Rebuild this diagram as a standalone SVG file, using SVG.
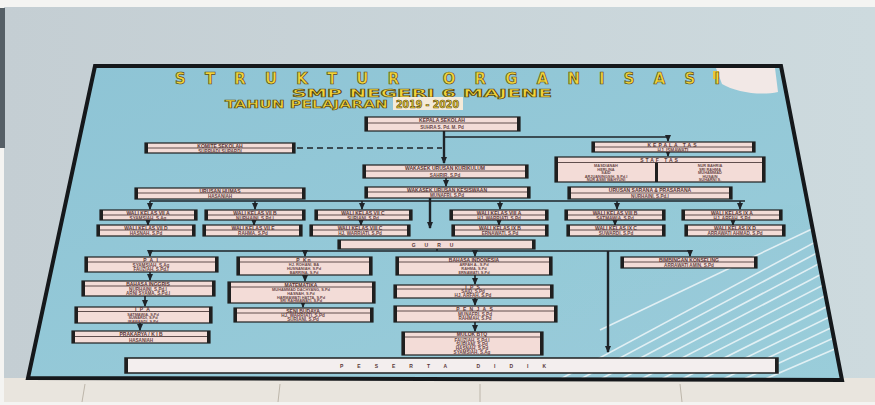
<svg xmlns="http://www.w3.org/2000/svg" width="875" height="405" viewBox="0 0 875 405">
<defs>
<linearGradient id="wall" x1="0" y1="0" x2="1" y2="0"><stop offset="0" stop-color="#c4ced3"/><stop offset="1" stop-color="#cddade"/></linearGradient>
<linearGradient id="board" x1="0" y1="0" x2="1" y2="1"><stop offset="0" stop-color="#8ec4d5"/><stop offset="1" stop-color="#9acdda"/></linearGradient>
<clipPath id="bclip"><polygon points="95,66 781,66 842,380 28,378"/></clipPath>
<marker id="ah" markerWidth="7" markerHeight="6" refX="6" refY="3" orient="auto" markerUnits="userSpaceOnUse"><path d="M0,0 L7,3 L0,6 Z" fill="#1e2328"/></marker>
</defs>
<style>
.bx{fill:#f3dcd7;stroke:#1f1f1f;stroke-width:1.2}
.bar{fill:#1f1f1f}
.dv{stroke:#3a2a2a;stroke-width:0.8}
.t{font-family:"Liberation Sans",Arial,sans-serif;font-weight:bold;font-size:5px;fill:#5a3838;text-anchor:middle}
.n{font-family:"Liberation Sans",Arial,sans-serif;font-weight:bold;font-size:4.6px;fill:#6a4848;text-anchor:middle}
.s{font-family:"Liberation Sans",Arial,sans-serif;font-weight:bold;font-size:3.9px;fill:#6a4848;text-anchor:middle}
.c{stroke:#1e2328;stroke-width:1.6;fill:none}
.big{stroke:#1e2328;stroke-width:2.4;fill:none}
.ttl{font-family:"DejaVu Sans",Verdana,sans-serif;font-weight:bold;fill:#f2d43a;stroke:#5a4a10;stroke-width:0.7}
</style>
<rect width="875" height="405" fill="#f4f4f2"/>
<rect x="4" y="7" width="871" height="378" fill="url(#wall)"/>
<rect x="0" y="8" width="5" height="140" fill="#555f66"/>
<rect x="4" y="378" width="871" height="24" fill="#e9e5de"/>
<g stroke="#bdb6aa" stroke-width="1">
<line x1="85" y1="384" x2="82" y2="402"/><line x1="280" y1="384" x2="278" y2="402"/><line x1="480" y1="384" x2="480" y2="402"/><line x1="680" y1="384" x2="682" y2="402"/>
</g>
<polygon points="95,66 781,66 842,380 28,378" fill="url(#board)"/>
<g clip-path="url(#bclip)" stroke="#eef6f8" stroke-width="1.6" opacity="0.85">
<line x1="560" y1="390" x2="860" y2="230"/><line x1="580" y1="390" x2="860" y2="242"/><line x1="600" y1="390" x2="860" y2="254"/><line x1="620" y1="390" x2="860" y2="266"/><line x1="640" y1="390" x2="860" y2="278"/><line x1="660" y1="390" x2="860" y2="290"/><line x1="680" y1="390" x2="860" y2="302"/><line x1="700" y1="390" x2="860" y2="314"/><line x1="720" y1="390" x2="860" y2="326"/><line x1="740" y1="390" x2="860" y2="338"/><line x1="540" y1="390" x2="860" y2="218"/><line x1="600" y1="330" x2="860" y2="206"/>
</g>
<path d="M716,68 L775,68 L778,92 C760,96 735,92 722,84 Z" fill="#f2e8e6" clip-path="url(#bclip)"/>
<rect x="713" y="71" width="6" height="8" fill="#e7c83a"/>
<polygon points="95,66 781,66 842,380 28,378" fill="none" stroke="#15181b" stroke-width="4"/>

<g id="title">
<text class="ttl" x="175" y="84" font-size="15" textLength="545" lengthAdjust="spacing">STRUKTUR ORGANISASI</text>
<text class="ttl" x="292" y="97" font-size="11" textLength="260" lengthAdjust="spacingAndGlyphs">SMP NEGERI 6 MAJENE</text>
<text class="ttl" x="225" y="108" font-size="11" textLength="163" lengthAdjust="spacingAndGlyphs">TAHUN PELAJARAN</text>
<rect x="393" y="97" width="70" height="13" fill="#f4ead8"/>
<text class="ttl" x="396" y="108" font-size="10.5" textLength="63" lengthAdjust="spacingAndGlyphs" stroke="none" fill="#f0cf3a">2019 - 2020</text>
</g>

<g id="connectors">
<path class="big" d="M444,131 V163" marker-end="url(#ah)"/>
<path class="c" d="M297,148 H442" stroke-dasharray="6 4"/>
<path class="c" d="M445,137 H668 V141" marker-end="url(#ah)"/>
<path class="c" d="M668,152 V156" marker-end="url(#ah)"/>
<path class="c" d="M446,178 V186" marker-end="url(#ah)"/>
<path class="c" d="M150,201 H745"/>
<path class="c" d="M150,201 V209" marker-end="url(#ah)"/>
<path class="c" d="M255,201 V209" marker-end="url(#ah)"/>
<path class="c" d="M362,201 V209" marker-end="url(#ah)"/>
<path class="c" d="M500,201 V209" marker-end="url(#ah)"/>
<path class="c" d="M617,201 V209" marker-end="url(#ah)"/>
<path class="c" d="M740,201 V209" marker-end="url(#ah)"/>
<path class="big" d="M430,198 V228" marker-end="url(#ah)"/>
<path class="c" d="M148,220 V225" marker-end="url(#ah)"/>
<path class="c" d="M254,220 V225" marker-end="url(#ah)"/>
<path class="c" d="M361,220 V225" marker-end="url(#ah)"/>
<path class="c" d="M499,220 V225" marker-end="url(#ah)"/>
<path class="c" d="M615,220 V225" marker-end="url(#ah)"/>
<path class="c" d="M733,220 V225" marker-end="url(#ah)"/>
<path class="c" d="M437,248 V251 M150,251 H690"/>
<path class="c" d="M150,251 V256" marker-end="url(#ah)"/>
<path class="c" d="M305,251 V256" marker-end="url(#ah)"/>
<path class="c" d="M475,251 V256" marker-end="url(#ah)"/>
<path class="c" d="M690,251 V256" marker-end="url(#ah)"/>
<path class="big" d="M608,251 V352" marker-end="url(#ah)"/>
<path class="c" d="M150,272 V280" marker-end="url(#ah)"/>
<path class="c" d="M145,296 V306" marker-end="url(#ah)"/>
<path class="c" d="M140,323 V330" marker-end="url(#ah)"/>
<path class="c" d="M305,275 V281" marker-end="url(#ah)"/>
<path class="c" d="M303,303 V307" marker-end="url(#ah)"/>
<path class="c" d="M475,275 V284" marker-end="url(#ah)"/>
<path class="c" d="M475,298 V305" marker-end="url(#ah)"/>
<path class="c" d="M475,322 V331" marker-end="url(#ah)"/>
</g>

<g id="kepala-sekolah"><rect class="bx" x="365" y="117" width="155" height="14"/><rect class="bar" x="365" y="117" width="3" height="14"/><rect class="bar" x="517" y="117" width="3" height="14"/><line class="dv" x1="368" y1="123" x2="517" y2="123"/><text class="t" x="442" y="122">KEPALA SEKOLAH</text><text class="n" x="442" y="129">SUHRA S. Pd. M. Pd</text></g>
<g id="komite"><rect class="bx" x="145" y="143" width="150" height="10"/><rect class="bar" x="145" y="143" width="3" height="10"/><rect class="bar" x="292" y="143" width="3" height="10"/><line class="dv" x1="148" y1="148" x2="292" y2="148"/><text class="t" x="220" y="147.5">KOMITE SEKOLAH</text><text class="n" x="220" y="152.5">SUPRIADI SUPARDI</text></g>
<g id="kepala-tas"><rect class="bx" x="592" y="142" width="163" height="10"/><rect class="bar" x="592" y="142" width="3" height="10"/><rect class="bar" x="752" y="142" width="3" height="10"/><line class="dv" x1="595" y1="147" x2="752" y2="147"/><text class="t" x="673" y="146.5" letter-spacing="2">KEPALA TAS</text><text class="n" x="673" y="151.5">HJ. ISMAWATI</text></g>
<g id="staf-tas"><rect class="bx" x="555" y="157" width="210" height="25"/><rect class="bar" x="555" y="157" width="3" height="25"/><rect class="bar" x="762" y="157" width="3" height="25"/><rect class="bar" x="655" y="162.5" width="3" height="19.5"/><line class="dv" x1="558" y1="162.5" x2="762" y2="162.5"/><text class="t" x="660" y="161.5" letter-spacing="2">STAF TAS</text>
<text class="s" x="606" y="167">MASDIANAH</text><text class="s" x="606" y="170.7">HERLINA</text><text class="s" x="606" y="174.4">SAID</text><text class="s" x="606" y="178">ARJUANINGSIH, S.Pd.I</text><text class="s" x="606" y="181.3">NUR ASMI WAHYUNI</text>
<text class="s" x="710" y="167">NUR BAHRIA</text><text class="s" x="710" y="170.7">SRI RAHMA</text><text class="s" x="710" y="174.4">MUHAMMAD</text><text class="s" x="710" y="178">HUSAIN</text><text class="s" x="710" y="181.3">SUHARNI S.</text></g>
<g id="wakasek-kurikulum"><rect class="bx" x="363" y="165" width="165" height="13"/><rect class="bar" x="363" y="165" width="3" height="13"/><rect class="bar" x="525" y="165" width="3" height="13"/><line class="dv" x1="366" y1="171" x2="525" y2="171"/><text class="t" x="445" y="170">WAKASEK URUSAN KURIKULUM</text><text class="n" x="445" y="176.5">SAHRIR, S.Pd</text></g>
<g id="wakasek-kesiswaan"><rect class="bx" x="365" y="187" width="165" height="11"/><rect class="bar" x="365" y="187" width="3" height="11"/><rect class="bar" x="527" y="187" width="3" height="11"/><line class="dv" x1="368" y1="192" x2="527" y2="192"/><text class="t" x="447" y="191.5">WAKASEK URUSAN KESISWAAN</text><text class="n" x="447" y="197">MUNAFRI, S.Pd</text></g>
<g id="humas"><rect class="bx" x="135" y="188" width="170" height="11"/><rect class="bar" x="135" y="188" width="3" height="11"/><rect class="bar" x="302" y="188" width="3" height="11"/><line class="dv" x1="138" y1="193" x2="302" y2="193"/><text class="t" x="220" y="192.5">URUSAN HUMAS</text><text class="n" x="220" y="198">HASANIAH</text></g>
<g id="sarpras"><rect class="bx" x="568" y="187" width="164" height="12"/><rect class="bar" x="568" y="187" width="3" height="12"/><rect class="bar" x="729" y="187" width="3" height="12"/><line class="dv" x1="571" y1="193" x2="729" y2="193"/><text class="t" x="650" y="192">URUSAN SARANA &amp; PRASARANA</text><text class="n" x="650" y="198">NURHAINI, S.Pd.I</text></g>

<g id="wk-7a"><rect class="bx" x="100" y="210" width="97" height="10"/><rect class="bar" x="100" y="210" width="3" height="10"/><rect class="bar" x="194" y="210" width="3" height="10"/><line class="dv" x1="103" y1="215" x2="194" y2="215"/><text class="t" x="148" y="214.5">WALI KELAS VII A</text><text class="n" x="148" y="219.5">SYAMSIAH, S.Ag</text></g>
<g id="wk-7b"><rect class="bx" x="205" y="210" width="100" height="10"/><rect class="bar" x="205" y="210" width="3" height="10"/><rect class="bar" x="302" y="210" width="3" height="10"/><line class="dv" x1="208" y1="215" x2="302" y2="215"/><text class="t" x="255" y="214.5">WALI KELAS VII B</text><text class="n" x="255" y="219.5">NURHAINI, S.Pd.I</text></g>
<g id="wk-7c"><rect class="bx" x="315" y="210" width="97" height="10"/><rect class="bar" x="315" y="210" width="3" height="10"/><rect class="bar" x="409" y="210" width="3" height="10"/><line class="dv" x1="318" y1="215" x2="409" y2="215"/><text class="t" x="363" y="214.5">WALI KELAS VII C</text><text class="n" x="363" y="219.5">SURIANI, S.Pd</text></g>
<g id="wk-8a"><rect class="bx" x="450" y="210" width="98" height="10"/><rect class="bar" x="450" y="210" width="3" height="10"/><rect class="bar" x="545" y="210" width="3" height="10"/><line class="dv" x1="453" y1="215" x2="545" y2="215"/><text class="t" x="499" y="214.5">WALI KELAS VIII A</text><text class="n" x="499" y="219.5">HJ. WARRIATI, S.Pd</text></g>
<g id="wk-8b"><rect class="bx" x="565" y="210" width="100" height="10"/><rect class="bar" x="565" y="210" width="3" height="10"/><rect class="bar" x="662" y="210" width="3" height="10"/><line class="dv" x1="568" y1="215" x2="662" y2="215"/><text class="t" x="615" y="214.5">WALI KELAS VIII B</text><text class="n" x="615" y="219.5">SATMAWIA, S.Pd</text></g>
<g id="wk-9a"><rect class="bx" x="682" y="210" width="100" height="10"/><rect class="bar" x="682" y="210" width="3" height="10"/><rect class="bar" x="779" y="210" width="3" height="10"/><line class="dv" x1="685" y1="215" x2="779" y2="215"/><text class="t" x="732" y="214.5">WALI KELAS IX A</text><text class="n" x="732" y="219.5">HJ. ARFAH, S.Pd</text></g>
<g id="wk-7d"><rect class="bx" x="97" y="225" width="98" height="11"/><rect class="bar" x="97" y="225" width="3" height="11"/><rect class="bar" x="192" y="225" width="3" height="11"/><line class="dv" x1="100" y1="230" x2="192" y2="230"/><text class="t" x="146" y="229.5">WALI KELAS VII D</text><text class="n" x="146" y="235">HASNAH, S.Pd</text></g>
<g id="wk-7e"><rect class="bx" x="203" y="225" width="99" height="11"/><rect class="bar" x="203" y="225" width="3" height="11"/><rect class="bar" x="299" y="225" width="3" height="11"/><line class="dv" x1="206" y1="230" x2="299" y2="230"/><text class="t" x="253" y="229.5">WALI KELAS VII E</text><text class="n" x="253" y="235">RAHMA, S.Pd</text></g>
<g id="wk-8c"><rect class="bx" x="310" y="225" width="100" height="11"/><rect class="bar" x="310" y="225" width="3" height="11"/><rect class="bar" x="407" y="225" width="3" height="11"/><line class="dv" x1="313" y1="230" x2="407" y2="230"/><text class="t" x="360" y="229.5">WALI KELAS VIII C</text><text class="n" x="360" y="235">HJ. WARRIATI, S.Pd</text></g>
<g id="wk-9b"><rect class="bx" x="452" y="225" width="96" height="11"/><rect class="bar" x="452" y="225" width="3" height="11"/><rect class="bar" x="545" y="225" width="3" height="11"/><line class="dv" x1="455" y1="230" x2="545" y2="230"/><text class="t" x="500" y="229.5">WALI KELAS IX B</text><text class="n" x="500" y="235">ERNAWATI, S.Pd</text></g>
<g id="wk-9c"><rect class="bx" x="567" y="225" width="98" height="11"/><rect class="bar" x="567" y="225" width="3" height="11"/><rect class="bar" x="662" y="225" width="3" height="11"/><line class="dv" x1="570" y1="230" x2="662" y2="230"/><text class="t" x="616" y="229.5">WALI KELAS IX C</text><text class="n" x="616" y="235">SUWARDI, S.Pd</text></g>
<g id="wk-9d"><rect class="bx" x="685" y="225" width="100" height="11"/><rect class="bar" x="685" y="225" width="3" height="11"/><rect class="bar" x="782" y="225" width="3" height="11"/><line class="dv" x1="688" y1="230" x2="782" y2="230"/><text class="t" x="735" y="229.5">WALI KELAS IX D</text><text class="n" x="735" y="235">ARRAWATI AHMAD, S.Pd</text></g>

<g id="guru"><rect class="bx" x="338" y="240" width="197" height="9"/><rect class="bar" x="338" y="240" width="3" height="9"/><rect class="bar" x="532" y="240" width="3" height="9"/><text class="t" x="437" y="246.5" letter-spacing="9">GURU</text></g>

<g id="pai"><rect class="bx" x="85" y="257" width="133" height="15"/><rect class="bar" x="85" y="257" width="3" height="15"/><rect class="bar" x="215" y="257" width="3" height="15"/><line class="dv" x1="88" y1="262" x2="215" y2="262"/><text class="t" x="151" y="261.5" letter-spacing="1">P A I</text><text class="n" x="151" y="266.5">SYAMSIAH, S.Ag</text><text class="n" x="151" y="271">FAUZIAH, S.Pd.I</text></g>
<g id="pkn"><rect class="bx" x="237" y="257" width="135" height="18"/><rect class="bar" x="237" y="257" width="3" height="18"/><rect class="bar" x="369" y="257" width="3" height="18"/><line class="dv" x1="240" y1="262" x2="369" y2="262"/><text class="t" x="304" y="261.5" letter-spacing="1">P Kn</text><text class="s" x="304" y="266.3">HJ. ROHANI, BA</text><text class="s" x="304" y="270.3">HUSNANIAH, S.Pd</text><text class="s" x="304" y="274.3">BARRINA, S.Pd</text></g>
<g id="bindo"><rect class="bx" x="396" y="257" width="156" height="18"/><rect class="bar" x="396" y="257" width="3" height="18"/><rect class="bar" x="549" y="257" width="3" height="18"/><line class="dv" x1="399" y1="262" x2="549" y2="262"/><text class="t" x="474" y="261.5">BAHASA INDONESIA</text><text class="s" x="474" y="266.3">ARFAH A., S.Pd</text><text class="s" x="474" y="270.3">RAHMA, S.Pd</text><text class="s" x="474" y="274.3">ERNAWATI, S.Pd</text></g>
<g id="bk"><rect class="bx" x="621" y="257" width="136" height="11"/><rect class="bar" x="621" y="257" width="3" height="11"/><rect class="bar" x="754" y="257" width="3" height="11"/><line class="dv" x1="624" y1="262" x2="754" y2="262"/><text class="t" x="689" y="261.5">BIMBINGAN KONSELING</text><text class="n" x="689" y="267">ARRAWATI AMIN, S.Pd</text></g>
<g id="bing"><rect class="bx" x="82" y="281" width="133" height="15"/><rect class="bar" x="82" y="281" width="3" height="15"/><rect class="bar" x="212" y="281" width="3" height="15"/><line class="dv" x1="85" y1="286" x2="212" y2="286"/><text class="t" x="148" y="285.5">BAHASA INGGRIS</text><text class="n" x="148" y="290.5">NURHAINI, S.Pd.I</text><text class="n" x="148" y="295">ARNI SYAMA, S.Pd.I</text></g>
<g id="mat"><rect class="bx" x="228" y="282" width="147" height="21"/><rect class="bar" x="228" y="282" width="3" height="21"/><rect class="bar" x="372" y="282" width="3" height="21"/><line class="dv" x1="231" y1="287" x2="372" y2="287"/><text class="t" x="301" y="286.5">MATEMATIKA</text><text class="s" x="301" y="291">MUHAMMAD DACHYANG, S.Pd</text><text class="s" x="301" y="295">HASNAH, S.Pd</text><text class="s" x="301" y="298.8">HARMAWATI HATTA, S.Pd</text><text class="s" x="301" y="302.4">SRI RAHMAWATI, S.Pd</text></g>
<g id="ips"><rect class="bx" x="394" y="285" width="159" height="13"/><rect class="bar" x="394" y="285" width="3" height="13"/><rect class="bar" x="550" y="285" width="3" height="13"/><line class="dv" x1="397" y1="289" x2="550" y2="289"/><text class="t" x="473" y="288.5" letter-spacing="1">I P S</text><text class="n" x="473" y="293">SAID, S.Pd</text><text class="n" x="473" y="297">HJ. ARFAH, S.Pd</text></g>
<g id="ipa"><rect class="bx" x="75" y="307" width="137" height="16"/><rect class="bar" x="75" y="307" width="3" height="16"/><rect class="bar" x="209" y="307" width="3" height="16"/><line class="dv" x1="78" y1="311.5" x2="209" y2="311.5"/><text class="t" x="143" y="311" letter-spacing="1">I P A</text><text class="s" x="143" y="315.5">SATMAWIA, S.Pd</text><text class="s" x="143" y="319">SUWARDI, S.Pd</text><text class="s" x="143" y="322.5">IRAWANDI, S.Pd</text></g>
<g id="seni"><rect class="bx" x="234" y="308" width="139" height="14"/><rect class="bar" x="234" y="308" width="3" height="14"/><rect class="bar" x="370" y="308" width="3" height="14"/><line class="dv" x1="237" y1="313" x2="370" y2="313"/><text class="t" x="303" y="312.5">SENI BUDAYA</text><text class="n" x="303" y="317">HJ. WARRIATI, S.Pd</text><text class="n" x="303" y="321">SURIANI, S.Pd</text></g>
<g id="penjas"><rect class="bx" x="394" y="306" width="163" height="16"/><rect class="bar" x="394" y="306" width="3" height="16"/><rect class="bar" x="554" y="306" width="3" height="16"/><line class="dv" x1="397" y1="311" x2="554" y2="311"/><text class="t" x="475" y="310.5" letter-spacing="1">P E N J A S</text><text class="n" x="475" y="315.5">MUNAFRI, S.Pd</text><text class="n" x="475" y="320">RAHMAH, S.Pd</text></g>
<g id="prakarya"><rect class="bx" x="72" y="331" width="138" height="12"/><rect class="bar" x="72" y="331" width="3" height="12"/><rect class="bar" x="207" y="331" width="3" height="12"/><line class="dv" x1="75" y1="336.5" x2="207" y2="336.5"/><text class="t" x="141" y="335.5">PRAKARYA / K I B</text><text class="n" x="141" y="341.5">HASANIAH</text></g>
<g id="mulok"><rect class="bx" x="402" y="332" width="141" height="23"/><rect class="bar" x="402" y="332" width="3" height="23"/><rect class="bar" x="540" y="332" width="3" height="23"/><line class="dv" x1="405" y1="337" x2="540" y2="337"/><text class="t" x="472" y="336">MULOK BTQ</text><text class="n" x="472" y="341.5">FAUZIAH, S.Pd.I</text><text class="n" x="472" y="345.5">SURIANI, S.Pd</text><text class="n" x="472" y="349.5">HASNAH, S.Pd</text><text class="n" x="472" y="353.5">SYAMSIAH, S.Ag</text></g>
<g id="peserta-didik"><rect x="125" y="358" width="653" height="15" fill="#f3eeee" stroke="#1f1f1f" stroke-width="1.5"/><rect class="bar" x="125" y="358" width="3" height="15"/><rect class="bar" x="775" y="358" width="3" height="15"/><text class="t" x="450" y="367.5" fill="#222" font-size="6" letter-spacing="14">PESERTA DIDIK</text></g>
</svg>
